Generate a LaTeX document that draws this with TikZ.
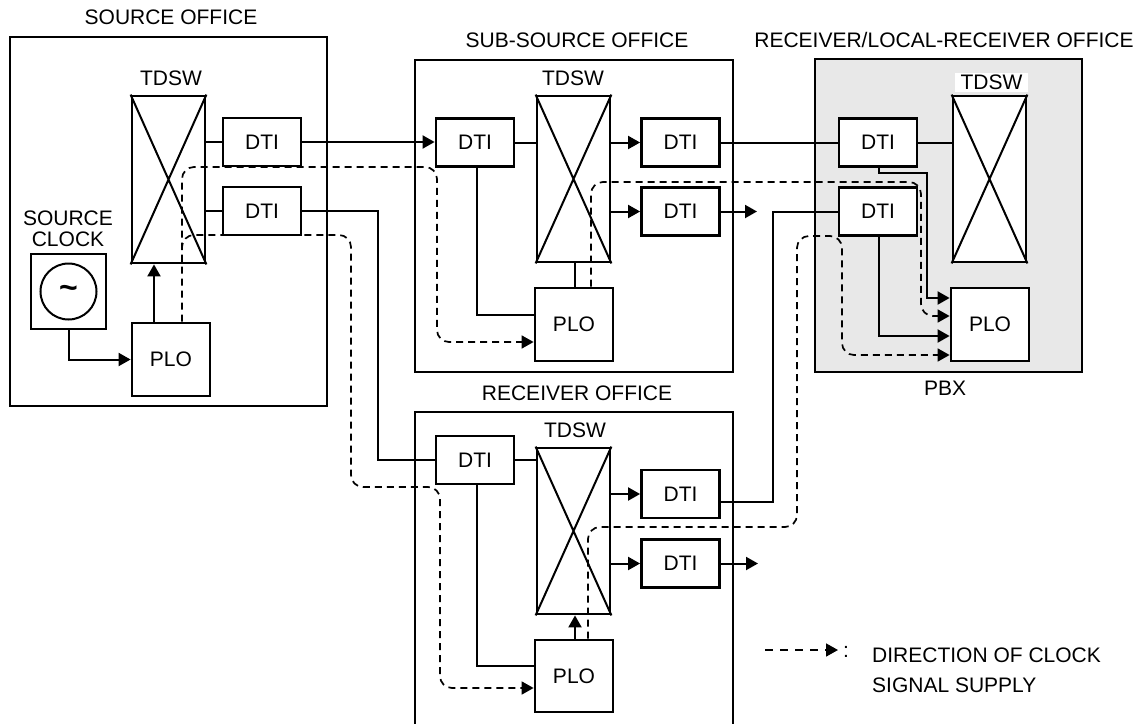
\documentclass[tikz,border=0pt]{standalone}
\usepackage{fontspec}
\setmainfont{Liberation Sans}
\usetikzlibrary{arrows.meta,calc}
\begin{document}
\begin{tikzpicture}[x=1pt,y=-1pt,
  font=\fontsize{21}{25}\selectfont,
  office/.style={draw,line width=2pt,inner sep=0pt},
  dtibox/.style={draw,line width=2.8pt,fill=white,inner sep=0pt,minimum width=78pt,minimum height=48pt},
  plobox/.style={draw,line width=2.8pt,fill=white,inner sep=0pt,minimum width=78pt,minimum height=73pt},
  swbox/.style={draw,line width=2.8pt,fill=white,inner sep=0pt,minimum width=73pt,minimum height=166pt},
  lbl/.style={inner sep=0pt},
  wire/.style={line width=2pt},
  arr/.style={wire,-{Triangle[length=12pt,width=13pt]}},
  clk/.style={line width=1.7pt,dash pattern=on 7pt off 5pt,rounded corners=12pt},
  clkarr/.style={clk,-{Triangle[length=12pt,width=13pt]}}]
\clip (0,0) rectangle (1142,723);
% ---------- offices ----------
\node[office,minimum width=317pt,minimum height=369pt] (sofc) at (168.5,221.5) {};
\node[lbl] (sofcl) at (171,17) {SOURCE OFFICE};
\node[office,minimum width=318pt,minimum height=312pt] (ssofc) at (574,216) {};
\node[lbl] (ssofcl) at (577,40) {SUB-SOURCE OFFICE};
\node[office,line width=2.8pt,fill=black!9,minimum width=267pt,minimum height=313pt] (pbx) at (948.5,215.5) {};
\node[lbl] (pbxl) at (944,40) {RECEIVER/LOCAL-RECEIVER OFFICE};
\node[lbl] (pbxn) at (945,388) {PBX};
\node[office,minimum width=318pt,minimum height=348pt] (rofc) at (574,586) {};
\node[lbl] (rofcl) at (577,393) {RECEIVER OFFICE};
% ---------- source office ----------
\node[swbox,minimum height=167pt] (stdsw) at (168.5,179.5) {};
\node[lbl] (stdswl) at (171,78) {TDSW};
\node[dtibox] (sdti1) at (262,142) {DTI};
\node[dtibox] (sdti2) at (262,211) {DTI};
\node[draw,line width=2.8pt,inner sep=0pt,minimum width=75pt,minimum height=75pt] (sclk) at (68.5,291.5) {};
\node[draw,line width=2pt,circle,minimum size=56pt,inner sep=0pt] (sclkc) at (sclk.center) {};
\node[lbl,font=\fontsize{32}{32}\selectfont\bfseries] (tilde) at (68.5,291.5) {\textasciitilde};
\node[lbl,align=center,font=\fontsize{21}{21}\selectfont] (sclkl) at (68,228.5) {SOURCE\\CLOCK};
\node[plobox] (splo) at (171,359.5) {PLO};
% ---------- sub-source office ----------
\node[swbox] (sstdsw) at (573.5,179) {};
\node[lbl] (sstdswl) at (573,78) {TDSW};
\node[dtibox] (ssdti0) at (475,142.5) {DTI};
\node[dtibox] (ssdti1) at (680.5,142.5) {DTI};
\node[dtibox] (ssdti2) at (680.5,211.5) {DTI};
\node[plobox] (ssplo) at (574,324.5) {PLO};
% ---------- PBX ----------
\node[swbox] (ptdsw) at (989.5,179) {};
\node[lbl,fill=white,minimum width=73pt,minimum height=19pt] (ptdswl) at (991.5,82.5) {TDSW};
\node[dtibox] (pdti1) at (878,142.5) {DTI};
\node[dtibox] (pdti2) at (878,211.5) {DTI};
\node[plobox] (pplo) at (990,324.5) {PLO};
% ---------- receiver office ----------
\node[swbox] (rtdsw) at (573.5,531) {};
\node[lbl] (rtdswl) at (575,430) {TDSW};
\node[dtibox] (rdti0) at (475,460) {DTI};
\node[dtibox] (rdti1) at (680.5,494) {DTI};
\node[dtibox] (rdti2) at (680.5,563.5) {DTI};
\node[plobox,minimum height=72pt] (rplo) at (574,676) {PLO};
% ---------- switch crosses ----------
\foreach \s in {stdsw,sstdsw,ptdsw,rtdsw}{
  \draw[wire] (\s.north west) -- (\s.south east) (\s.north east) -- (\s.south west);
}
% ---------- connectors: source ----------
\draw[arr] (sclk.south) |- (splo.west);
\draw[arr] ($(splo.north)+(-17,0)$) coordinate (s1) -- (s1 |- stdsw.south);
\draw[wire] (sdti1.west -| stdsw.east) -- (sdti1.west);
\draw[wire] (sdti2.west -| stdsw.east) -- (sdti2.west);
\draw[arr] (sdti1.east) -- (sdti1.east -| ssdti0.west);
\coordinate (k1) at (378,0);
\draw[wire] (sdti2.east) -| (k1 |- rdti0.west) -- (rdti0.west);
% ---------- connectors: sub-source ----------
\draw[wire] (ssdti0.east) -- (ssdti0.east -| sstdsw.west);
\draw[arr] (ssdti1.west -| sstdsw.east) -- (ssdti1.west);
\draw[arr] (ssdti2.west -| sstdsw.east) -- (ssdti2.west);
\coordinate (ssout) at (757,211.5);
\draw[arr] (ssdti2.east) -- (ssout);
\draw[wire] ($(ssdti0.south)+(2,0)$) |- ($(ssplo.west)+(0,-9.5)$);
\draw[wire] ($(sstdsw.south)+(1.5,0)$) coordinate (s2) -- (s2 |- ssplo.north);
\draw[wire] (ssdti1.east) -- (pdti1.west);
% ---------- connectors: PBX ----------
\draw[wire] (pdti1.east) -- (pdti1.east -| ptdsw.west);
\draw[arr] ($(pdti1.south)+(1,0)$) |- (927,173) |- ($(pplo.west)+(0,-26.5)$);
\draw[arr] ($(pdti2.south)+(1,0)$) |- ($(pplo.west)+(0,11.5)$);
\draw[wire] ($(rdti1.east)+(0,8)$) -| (773,300) |- (pdti2.west);
% ---------- connectors: receiver ----------
\draw[wire] (rdti0.east) -- (rdti0.east -| rtdsw.west);
\draw[arr] (rdti1.west -| rtdsw.east) -- (rdti1.west);
\draw[arr] (rdti2.west -| rtdsw.east) -- (rdti2.west);
\coordinate (rout) at (758,563.5);
\draw[arr] (rdti2.east) -- (rout);
\draw[wire] ($(rdti0.south)+(2,0)$) |- ($(rplo.west)+(0,-10)$);
\draw[arr] ($(rplo.north)+(1,0)$) coordinate (r1) -- (r1 |- rtdsw.south);
% ---------- clock supply (dashed) ----------
\draw[clkarr] ($(splo.north)+(11,0)$) -- (182,167) -- (437,167) -- (437,342) -- ($(ssplo.west)+(0,17.5)$);
\draw[clkarr] (182,262) -- (182,235) -- (351,235) -- (351,487) -- (440,487) -- (440,688) -- ($(rplo.west)+(0,12)$);
\draw[clkarr] ($(ssplo.north)+(17,0)$) -- (591,182) -- (921,182) -- (921,316) -- ($(pplo.west)+(0,-8.5)$);
\draw[clkarr] ($(rplo.north)+(14,0)$) -- (588,527) -- (797,527) -- (797,236) -- (842,236) -- (842,355) -- ($(pplo.west)+(0,30.5)$);
% ---------- legend ----------
\coordinate (lg1) at (765,650);
\coordinate (lg2) at (838,650);
\draw[line width=1.7pt,dash pattern=on 8pt off 7pt,-{Triangle[length=12pt,width=13pt]}] (lg1) -- (lg2);
\node[lbl] (colon) at (846,652) {:};
\node[lbl,anchor=west,align=left,font=\fontsize{21}{30}\selectfont] (lgt) at (872,670) {DIRECTION OF CLOCK\\SIGNAL SUPPLY};
\end{tikzpicture}
\end{document}
